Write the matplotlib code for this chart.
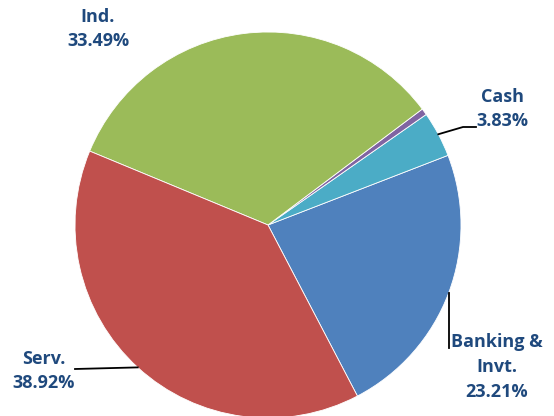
import matplotlib.pyplot as plt
import numpy as np

# sector shares (%)
labels = ['Banking &\nInvt.', 'Cash', 'Other', 'Ind.', 'Serv.']
shares = [23.21, 3.83, 0.55, 33.49, 38.92]
colors = ['#4F81BD', '#4BACC6', '#8064A2', '#9BBB59', '#C0504D']

plt.rcParams['font.family'] = ['Open Sans', 'DejaVu Sans']

W, H = 554, 416
fig = plt.figure(figsize=(W / 100, H / 100), dpi=100)
ax = fig.add_axes([0, 0, 1, 1])

cx, cy, r = 268, H - 225, 193
wedges, _ = ax.pie(shares, colors=colors, startangle=-62.4, counterclock=True,
                   center=(cx, cy), radius=r, frame=True,
                   wedgeprops=dict(edgecolor='white', linewidth=0.6))
ax.set_xlim(0, W)
ax.set_ylim(0, H)
ax.set_aspect('equal')
ax.axis('off')

txt = dict(color='#1F497D', fontsize=13.0, fontweight='bold', ha='center',
           va='center', linespacing=1.5)

def edge(i):
    w = wedges[i]
    a = np.deg2rad((w.theta1 + w.theta2) / 2)
    return cx + r * np.cos(a), cy + r * np.sin(a)

# label positions (pixels, y from top)
pos = {0: (497, 367), 1: (502, 109), 3: (98, 29), 4: (44, 371)}
for i, (x, y) in pos.items():
    ax.text(x, H - y, '%s\n%.2f%%' % (labels[i], shares[i]), **txt)

# leader lines
ex, ey = edge(1)
ax.plot([ex, 463, 476], [ey, H - 127, H - 127], color='black', lw=1.3)
ex, ey = edge(0)
ax.plot([ex, ex], [ey, H - 348], color='black', lw=1.3)
ex, ey = edge(4)
ax.plot([ex, 75], [ey, H - 369], color='black', lw=1.3)

fig.savefig('out.png', dpi=100)
